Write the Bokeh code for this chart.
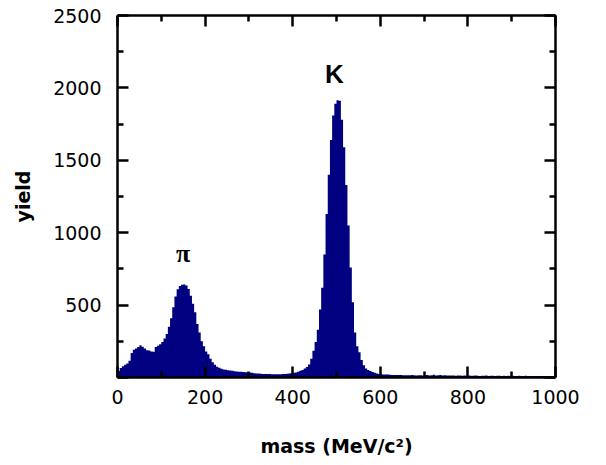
import numpy as np
from bokeh.plotting import figure
from bokeh.models import Range1d, FixedTicker, LinearAxis, Label
from bokeh.embed import file_html
from bokeh.resources import INLINE

# ---- data (5 MeV/c^2 bins from 0 to 1000) ----
bin_width = 5
yields = [
    45, 65, 78, 88, 97, 115, 170, 192, 200, 210, 222, 212, 200, 188, 186, 180, 178, 210, 220, 230,
    245, 270, 300, 350, 410, 485, 560, 610, 632, 640, 642, 635, 612, 565, 510, 450, 370, 310, 250, 215,
    180, 160, 130, 105, 88, 75, 68, 60, 56, 53, 50, 48, 46, 43, 41, 40, 39, 38, 37, 36,
    34, 32, 30, 28, 27, 26, 25, 25, 24, 24, 23, 23, 22, 22, 23, 24, 25, 26, 28, 30,
    32, 35, 40, 46, 52, 62, 72, 90, 130, 185, 245, 330, 470, 620, 850, 1130, 1400, 1640, 1810, 1890,
    1915, 1912, 1780, 1590, 1330, 1050, 760, 520, 310, 215, 175, 120, 85, 62, 52, 45, 38, 32, 27, 24,
    22, 21, 20, 20, 19, 18, 18, 17, 17, 17, 16, 16, 15, 16, 17, 15, 14, 15, 16, 14,
    15, 18, 14, 16, 19, 14, 15, 17, 13, 15, 14, 13, 14, 13, 12, 14, 13, 12, 13, 12,
    13, 12, 12, 13, 12, 11, 12, 12, 13, 11, 12, 12, 11, 12, 12, 11, 12, 11, 12, 11,
    12, 11, 11, 12, 11, 11, 12, 11, 11, 10, 11, 11, 10, 11, 11, 10, 11, 10, 11, 10,
]
bin_centers = [bin_width * i + bin_width / 2 for i in range(len(yields))]

x_ticks = [0, 200, 400, 600, 800, 1000]
x_minor = [100, 300, 500, 700, 900]
y_ticks = [0, 500, 1000, 1500, 2000, 2500]
y_minor = [250, 750, 1250, 1750, 2250]

peak_labels = ["\u03c0", "K"]
peak_x = [150, 495]
peak_y = [856, 2096]

x_title = "mass (MeV/c\u00b2)"
y_title = "yield"

NAVY = "#000080"

p = figure(width=598, height=457, output_backend="svg", toolbar_location=None,
           x_range=Range1d(0, 1000), y_range=Range1d(0, 2500),
           min_border_left=117, min_border_right=43, min_border_top=15, min_border_bottom=80)
p.frame_width = 438
p.frame_height = 362
p.grid.visible = False
p.outline_line_color = None
p.background_fill_color = "white"
p.border_fill_color = "white"

p.varea_step(x=bin_centers, y1=[0] * len(yields), y2=yields, step_mode="center",
             fill_color=NAVY)

def style_axis(ax, ticks, minor):
    ax.ticker = FixedTicker(ticks=ticks, minor_ticks=minor)
    ax.axis_line_width = 2.5
    ax.axis_line_color = "black"
    ax.major_tick_in = 11
    ax.major_tick_out = 0
    ax.minor_tick_in = 6
    ax.minor_tick_out = 0
    ax.major_tick_line_width = 2.5
    ax.minor_tick_line_width = 2.5
    ax.major_tick_line_color = "black"
    ax.minor_tick_line_color = "black"
    ax.major_label_text_font = "DejaVu Sans"
    ax.major_label_text_font_size = "19px"
    ax.major_label_text_color = "black"

xa = p.xaxis[0]
style_axis(xa, x_ticks, x_minor)
xa.major_label_standoff = 12
xa.axis_label = x_title
xa.axis_label_text_font = "DejaVu Sans"
xa.axis_label_text_font_style = "bold"
xa.axis_label_text_font_size = "19px"
xa.axis_label_text_color = "black"
xa.axis_label_standoff = 28

ya = p.yaxis[0]
style_axis(ya, y_ticks, y_minor)
ya.major_label_standoff = 16
ya.major_label_overrides = {0: ""}
ya.axis_label = y_title
ya.axis_label_text_font = "DejaVu Sans"
ya.axis_label_text_font_style = "bold"
ya.axis_label_text_font_size = "19px"
ya.axis_label_text_color = "black"
ya.axis_label_standoff = 16

top = LinearAxis()
style_axis(top, x_ticks, x_minor)
top.major_label_overrides = {t: "" for t in x_ticks}
top.major_label_standoff = 0
p.add_layout(top, "above")

right = LinearAxis()
style_axis(right, y_ticks, y_minor)
right.major_label_overrides = {t: "" for t in y_ticks}
right.major_label_standoff = 0
p.add_layout(right, "right")

fonts = ["Liberation Serif", "Liberation Sans"]
for txt, xx, yy, fnt in zip(peak_labels, peak_x, peak_y, fonts):
    p.add_layout(Label(x=xx, y=yy, text=txt, text_font=fnt, text_font_style="bold",
                       text_font_size="26px", text_align="center", text_baseline="middle",
                       text_color="black"))

open("out.html", "w").write(file_html(p, INLINE))
